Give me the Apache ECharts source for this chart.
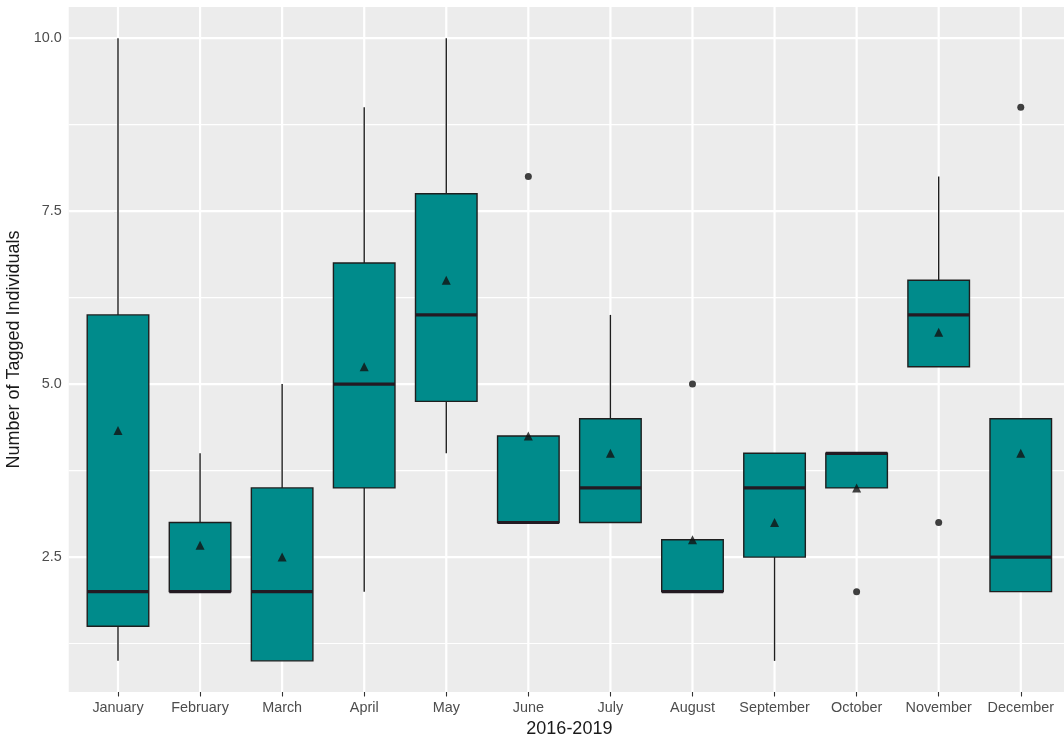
<!DOCTYPE html>
<html>
<head>
<meta charset="utf-8">
<script src="https://cdn.jsdelivr.net/npm/echarts@6/dist/echarts.min.js"></script>
<style>
  html, body { margin: 0; padding: 0; background: #ffffff; }
  #chart { width: 1064px; height: 738px; }
</style>
</head>
<body>
<div id="chart"></div>
<script>
// ---- data ----
const months = ['January', 'February', 'March', 'April', 'May', 'June', 'July', 'August', 'September', 'October', 'November', 'December'];
const whiskerLow  = [1,   2,    1,   2,    4,    3,    3,   2,    1,   4,   6,    2];
const q1          = [1.5, 2,    1,   3.5,  4.75, 3,    3,   2,    2.5, 3.5, 5.25, 2];
const medians     = [2,   2,    2,   5,    6,    3,    3.5, 2,    3.5, 4,   6,    2.5];
const q3          = [6,   3,    3.5, 6.75, 7.75, 4.25, 4.5, 2.75, 4,   4,   6.5,  4.5];
const whiskerHigh = [10,  4,    5,   9,    10,   3,    6,   2,    4,   4,   8,    3];
const means       = [4.33, 2.67, 2.5, 5.25, 6.5, 4.25, 4,   2.75, 3,   3.5, 5.75, 4];
const outlierMonth = [5, 7, 9, 10, 11];
const outlierValue = [8, 5, 2, 3, 9];
const yTicks = [2.5, 5, 7.5, 10];
const yMinorTicks = [1.25, 3.75, 6.25, 8.75];

// ---- build ----
const monthIdx = months.map((m, i) => i);
const boxData = months.map((m, i) => [i, whiskerLow[i], q1[i], medians[i], q3[i], whiskerHigh[i]]);
const meanData = months.map((m, i) => [i, means[i]]);
const outlierData = outlierMonth.map((m, i) => [m, outlierValue[i]]);

const BOX_W = 0.75;
const FILL = '#008b8b';
const EDGE = '#1e1e1e';

function renderGrid(params, api) {
  const cs = params.coordSys;
  const children = [];
  yMinorTicks.forEach(v => {
    const y = api.coord([0, v])[1];
    children.push({ type: 'line', shape: { x1: cs.x, y1: y, x2: cs.x + cs.width, y2: y }, style: { stroke: '#ffffff', lineWidth: 1.1 } });
  });
  yTicks.forEach(v => {
    const y = api.coord([0, v])[1];
    children.push({ type: 'line', shape: { x1: cs.x, y1: y, x2: cs.x + cs.width, y2: y }, style: { stroke: '#ffffff', lineWidth: 2.2 } });
  });
  monthIdx.forEach(i => {
    const x = api.coord([i, 5])[0];
    children.push({ type: 'line', shape: { x1: x, y1: cs.y, x2: x, y2: cs.y + cs.height }, style: { stroke: '#ffffff', lineWidth: 2.2 } });
  });
  return { type: 'group', children: children };
}

function renderBox(params, api) {
  const x = api.value(0);
  const lo = api.value(1), b1 = api.value(2), md = api.value(3), b3 = api.value(4), hi = api.value(5);
  const pLo = api.coord([x, lo]);
  const pB1 = api.coord([x, b1]);
  const pMd = api.coord([x, md]);
  const pB3 = api.coord([x, b3]);
  const pHi = api.coord([x, hi]);
  const left = api.coord([x - BOX_W / 2, md])[0];
  const right = api.coord([x + BOX_W / 2, md])[0];
  return {
    type: 'group',
    children: [
      { type: 'line', shape: { x1: pLo[0], y1: pLo[1], x2: pB1[0], y2: pB1[1] }, style: { stroke: EDGE, lineWidth: 1.4 } },
      { type: 'line', shape: { x1: pB3[0], y1: pB3[1], x2: pHi[0], y2: pHi[1] }, style: { stroke: EDGE, lineWidth: 1.4 } },
      { type: 'rect', shape: { x: left, y: pB3[1], width: right - left, height: pB1[1] - pB3[1] }, style: { fill: FILL, stroke: EDGE, lineWidth: 1.4 } },
      { type: 'line', shape: { x1: left, y1: pMd[1], x2: right, y2: pMd[1] }, style: { stroke: '#231a22', lineWidth: 3.2 } }
    ]
  };
}

const chart = echarts.init(document.getElementById('chart'), null, { renderer: 'canvas' });
chart.setOption({
  animation: false,
  backgroundColor: '#ffffff',
  textStyle: { fontFamily: 'Liberation Sans, Arial, sans-serif' },
  grid: {
    left: 68.75, right: -6, top: 7, bottom: 46,
    outerBoundsMode: 'none',
    containLabel: false,
    show: true, backgroundColor: '#ececec', borderWidth: 0
  },
  xAxis: {
    type: 'value',
    min: -0.6, max: 11.6,
    name: '2016-2019',
    nameLocation: 'middle',
    nameGap: 25,
    nameTextStyle: { fontSize: 18, color: '#1a1a1a', fontFamily: 'Liberation Sans, Arial, sans-serif' },
    axisLine: { show: false },
    splitLine: { show: false },
    axisTick: { show: true, customValues: monthIdx, length: 4.5, lineStyle: { color: '#333333', width: 1.1 } },
    axisLabel: {
      customValues: monthIdx,
      formatter: v => months[Math.round(v)] || '',
      color: '#4d4d4d', fontSize: 14.4, margin: 9,
      fontFamily: 'Liberation Sans, Arial, sans-serif'
    }
  },
  yAxis: {
    type: 'value',
    min: 0.55, max: 10.45,
    name: 'Number of Tagged Individuals',
    nameLocation: 'middle',
    nameGap: 38,
    nameTextStyle: { fontSize: 18, color: '#1a1a1a', fontFamily: 'Liberation Sans, Arial, sans-serif' },
    axisLine: { show: false },
    splitLine: { show: false },
    axisTick: { show: true, customValues: yTicks, length: 4.5, lineStyle: { color: '#333333', width: 1.1 } },
    axisLabel: {
      customValues: yTicks,
      formatter: v => Number(v).toFixed(1),
      color: '#4d4d4d', fontSize: 14.4, margin: 7,
      fontFamily: 'Liberation Sans, Arial, sans-serif'
    }
  },
  series: [
    {
      type: 'custom',
      z: 1,
      silent: true,
      renderItem: renderGrid,
      data: [[0, 5]]
    },
    {
      type: 'custom',
      z: 2,
      renderItem: renderBox,
      encode: { x: 0, y: [1, 2, 3, 4, 5] },
      data: boxData
    },
    {
      type: 'scatter',
      z: 3,
      symbol: 'circle',
      symbolSize: 7,
      itemStyle: { color: '#111111' },
      data: outlierData
    },
    {
      type: 'scatter',
      z: 4,
      symbol: 'triangle',
      symbolSize: 9,
      itemStyle: { color: '#111111' },
      data: meanData
    }
  ]
});
</script>
</body>
</html>
